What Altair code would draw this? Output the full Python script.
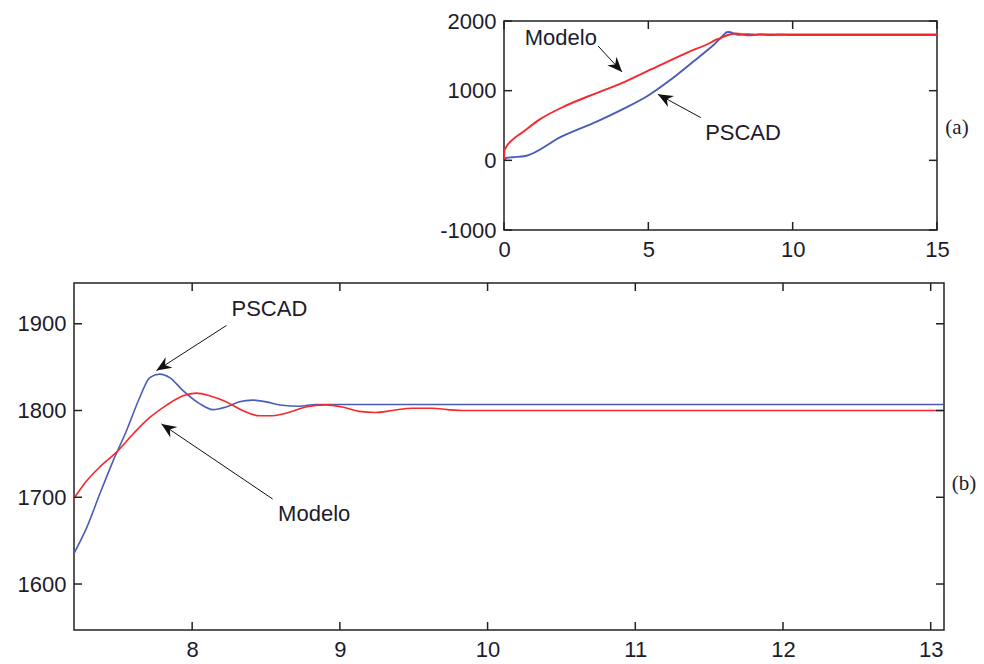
import altair as alt
import pandas as pd
import numpy as np

# ---------------- data ----------------
t_pscad = [0, 0.1, 0.3, 0.74, 1.99, 3.23, 4.1, 4.97, 5.71, 6.58, 7.2, 7.286, 7.375,
           7.465, 7.556, 7.645, 7.713, 7.78, 7.848, 7.938, 8.05, 8.14, 8.23, 8.32,
           8.41, 8.5, 8.61, 8.725, 8.84, 9.0, 15.0]
v_pscad = [0, 37, 45, 62, 340, 560, 732, 923, 1138, 1425, 1635, 1665, 1704,
           1742, 1777, 1815, 1838, 1842, 1838, 1823, 1808, 1801, 1804, 1810,
           1812, 1810, 1806, 1805, 1807, 1807, 1807]

t_modelo = [0, 0.02, 0.31, 0.62, 1.24, 1.99, 3.23, 4.1, 5.09, 6.33, 7.2, 7.286,
            7.375, 7.488, 7.6, 7.713, 7.825, 7.938, 8.028, 8.118, 8.23, 8.342,
            8.455, 8.545, 8.658, 8.77, 8.905, 9.017, 9.13, 9.243, 9.355, 9.49,
            9.625, 9.74, 9.85, 15.0]
v_modelo = [0, 150, 300, 396, 588, 755, 970, 1113, 1305, 1544, 1699, 1719,
            1735, 1752, 1773, 1792, 1806, 1817, 1820, 1817, 1810, 1800,
            1794, 1794, 1798, 1804, 1806.5, 1804, 1799, 1797.7, 1800, 1802.7,
            1802.7, 1800.8, 1800, 1800]

series_names = ["PSCAD", "Modelo"]
series_colors = ["#4b5cb8", "#f5282d"]

top_xticks = [0, 5, 10, 15]
top_yticks = [-1000, 0, 1000, 2000]
bot_xticks = [8, 9, 10, 11, 12, 13]
bot_yticks = [1600, 1700, 1800, 1900]

# annotations
top_label_text = ["Modelo", "PSCAD"]
top_label_t = [1.97, 8.28]
top_label_v = [1756, 393]
top_arrow_t1 = [3.26, 6.82]
top_arrow_v1 = [1641, 613]
top_arrow_t2 = [4.09, 5.33]
top_arrow_v2 = [1268, 948]

bot_label_text = ["PSCAD", "Modelo"]
bot_label_t = [8.523, 8.826]
bot_label_v = [1916.5, 1681]
bot_arrow_t1 = [8.232, 8.545]
bot_arrow_v1 = [1898, 1698]
bot_arrow_t2 = [7.758, 7.792]
bot_arrow_v2 = [1846, 1784.6]

# ---------------- styling ----------------
FONT = "Liberation Sans"
TXT = "#1c1c2c"
FRAME = "#222222"
ARROW_PATH = "M0,0 L0.42,1 L0,0.68 L-0.42,1 Z"

lines_df = pd.concat([
    pd.DataFrame({"t": t_pscad, "v": v_pscad, "series": "PSCAD"}),
    pd.DataFrame({"t": t_modelo, "v": v_modelo, "series": "Modelo"}),
], ignore_index=True)


def panel(xdom, ydom, W, H, xt, yt, lab_text, lab_t, lab_v,
          a_t1, a_v1, a_t2, a_v2, side_text, side_y, lw):
    xs = alt.Scale(domain=xdom, nice=False, zero=False)
    ys = alt.Scale(domain=ydom, nice=False, zero=False)
    xa = alt.Axis(values=xt, title=None, grid=False, ticks=False, tickSize=0,
                  domain=False, labelFont=FONT, labelFontSize=22,
                  labelColor=TXT, labelPadding=9, labelFlush=False,
                  labelOverlap=False, labelExpr="'' + datum.value")
    ya = alt.Axis(values=yt, title=None, grid=False, ticks=False, tickSize=0,
                  domain=False, labelFont=FONT, labelFontSize=22,
                  labelColor=TXT, labelPadding=8, labelOverlap=False,
                  minExtent=68, maxExtent=68, labelExpr="'' + datum.value")

    def X(f):
        return alt.X(f, type="quantitative", scale=xs, axis=xa)

    def Y(f):
        return alt.Y(f, type="quantitative", scale=ys, axis=ya)

    lines = alt.Chart(lines_df).mark_line(
        clip=True, strokeWidth=lw, interpolate="monotone"
    ).encode(
        x=X("t"), y=Y("v"),
        color=alt.Color("series:N", scale=alt.Scale(domain=series_names,
                                                     range=series_colors),
                        legend=None),
    )

    xtd = pd.DataFrame({"t": xt})
    ytd = pd.DataFrame({"v": yt})
    tick_top = alt.Chart(xtd).mark_rule(color=FRAME, strokeWidth=1.5).encode(
        x=X("t"), y=alt.value(0), y2=alt.value(8))
    tick_bot = alt.Chart(xtd).mark_rule(color=FRAME, strokeWidth=1.5).encode(
        x=X("t"), y=alt.value(H - 8), y2=alt.value(H))
    tick_left = alt.Chart(ytd).mark_rule(color=FRAME, strokeWidth=1.5).encode(
        y=Y("v"), x=alt.value(0), x2=alt.value(8))
    tick_right = alt.Chart(ytd).mark_rule(color=FRAME, strokeWidth=1.5).encode(
        y=Y("v"), x=alt.value(W - 8), x2=alt.value(W))

    t1 = np.array(a_t1, float); v1 = np.array(a_v1, float)
    t2 = np.array(a_t2, float); v2 = np.array(a_v2, float)
    dx = (t2 - t1) / (xdom[1] - xdom[0]) * W
    dy = (v2 - v1) / (ydom[1] - ydom[0]) * H
    ang = np.degrees(np.arctan2(dx, dy)) % 360
    arr_df = pd.DataFrame({"t": t1, "v": v1, "t2": t2, "v2": v2})
    head_df = pd.DataFrame({"t": t2, "v": v2, "ang": ang})

    arrows = alt.Chart(arr_df).mark_rule(color="#111", strokeWidth=1).encode(
        x=X("t"), y=Y("v"), x2="t2:Q", y2="v2:Q")
    heads = alt.Chart(head_df).mark_point(
        shape=ARROW_PATH, filled=True, color="#111", opacity=1, size=900,
        strokeWidth=0
    ).encode(x=X("t"), y=Y("v"), angle=alt.Angle("ang:Q", scale=None))

    labels = alt.Chart(pd.DataFrame({"t": lab_t, "v": lab_v, "s": lab_text})).mark_text(
        font=FONT, fontSize=22, color=TXT
    ).encode(x=X("t"), y=Y("v"), text="s:N")

    side = alt.Chart(pd.DataFrame({"s": [side_text]})).mark_text(
        font="Liberation Serif", fontSize=21, color=TXT
    ).encode(x=alt.value(W + 20), y=alt.value(side_y), text="s:N")

    return alt.layer(lines, tick_top, tick_bot, tick_left, tick_right,
                     arrows, heads, labels, side).properties(width=W, height=H)


top = panel([0, 15], [-1000, 2000], 433, 209, top_xticks, top_yticks,
            top_label_text, top_label_t, top_label_v,
            top_arrow_t1, top_arrow_v1, top_arrow_t2, top_arrow_v2, "(a)", 107, 1.9)
bottom = panel([7.2, 13.09], [1547, 1947], 870, 347, bot_xticks, bot_yticks,
               bot_label_text, bot_label_t, bot_label_v,
               bot_arrow_t1, bot_arrow_v1, bot_arrow_t2, bot_arrow_v2, "(b)", 201, 1.6)

spacer = alt.Chart(pd.DataFrame({"a": [0]})).mark_point(opacity=0).properties(
    width=360, height=209, view=alt.ViewBackground(stroke="transparent"))

chart = alt.vconcat(
    alt.hconcat(spacer, top, spacing=0),
    bottom,
    spacing=20,
).properties(
    padding={"left": 5, "top": 9, "right": 0, "bottom": 0},
    background="white",
).configure_view(stroke=FRAME, strokeWidth=1.5)

chart.save("out.html", embed_options={"renderer": "svg", "actions": False})
